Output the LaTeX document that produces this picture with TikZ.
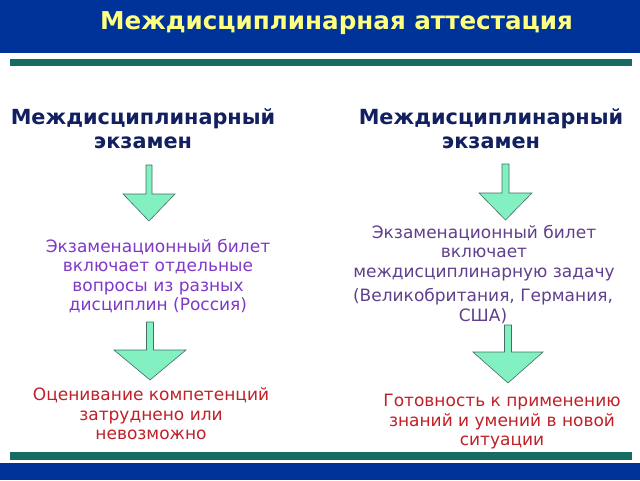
\documentclass[tikz,border=0pt]{standalone}
\usepackage{fontspec}
\setmainfont{DejaVu Sans}
\definecolor{bandblue}{RGB}{0,51,153}
\definecolor{lineteal}{RGB}{22,108,98}
\definecolor{titleyellow}{RGB}{255,255,128}
\definecolor{headnavy}{RGB}{18,32,96}
\definecolor{purpleA}{RGB}{128,56,200}
\definecolor{purpleB}{RGB}{96,64,140}
\definecolor{redtext}{RGB}{192,32,40}
\definecolor{arrowfill}{RGB}{130,240,192}
\definecolor{arrowline}{RGB}{70,110,100}
\tikzset{
  band/.style={fill=bandblue, draw=none},
  rule/.style={fill=lineteal, draw=none},
  titletext/.style={text=titleyellow, font=\fontsize{24.6}{28}\selectfont\bfseries, inner sep=0pt},
  headtext/.style={text=headnavy, align=center, font=\fontsize{20.8}{24}\selectfont\bfseries, inner sep=0pt},
  bodyA/.style={text=purpleA, align=center, font=\fontsize{17}{19.5}\selectfont, inner sep=0pt},
  bodyB/.style={text=purpleB, align=center, font=\fontsize{17}{19.5}\selectfont, inner sep=0pt},
  redbody/.style={text=redtext, align=center, font=\fontsize{17}{19.5}\selectfont, inner sep=0pt},
  blockarrow/.style={fill=arrowfill, draw=arrowline, line width=0.6pt, line join=miter}
}
\newcommand{\blockarrowat}[6]{% cx, top, baseY, tipY, halfhead, halfshaft
  \path[blockarrow] (#1-#6,#2) -- (#1+#6,#2) -- (#1+#6,#3) -- (#1+#5,#3) -- (#1,#4)
    -- (#1-#5,#3) -- (#1-#6,#3) -- cycle;}
\begin{document}
\begin{tikzpicture}[x=1pt,y=-1pt]
\useasboundingbox (0,0) rectangle (640,480);
\fill[white] (0,0) rectangle (640,480);
% bands and rules
\path[band] (0,0) rectangle (640,53);
\path[rule] (10,59) rectangle (632,66);
\path[rule] (10,452) rectangle (632,460);
\path[band] (0,463) rectangle (640,480);
\node[titletext] (title) at (336.5,23) {Междисциплинарная аттестация};
% headings
\node[headtext] (hL) at (143,129) {Междисциплинарный\\экзамен};
\node[headtext] (hR) at (491,129) {Междисциплинарный\\экзамен};
% arrows
\blockarrowat{149}{165}{194}{221}{26}{3}
\blockarrowat{505.5}{164}{193}{220}{26.5}{3.5}
\blockarrowat{150}{322}{350}{380}{36}{3.5}
\blockarrowat{508}{325}{352}{383}{35}{3.5}
% body texts
\node[bodyA] (tL) at (158,276) {Экзаменационный билет\\включает отдельные\\вопросы из разных\\дисциплин (Россия)};
\node[bodyB] (tR1) at (484,253) {Экзаменационный билет\\включает\\междисциплинарную задачу};
\node[bodyB] (tR2) at (483,306) {(Великобритания, Германия,\\США)};
\node[redbody] (rL) at (151,414) {Оценивание компетенций\\затруднено или\\невозможно};
\node[redbody] (rR) at (502,422) {Готовность к применению\\знаний и умений в новой\\ситуации};
\end{tikzpicture}
\end{document}
